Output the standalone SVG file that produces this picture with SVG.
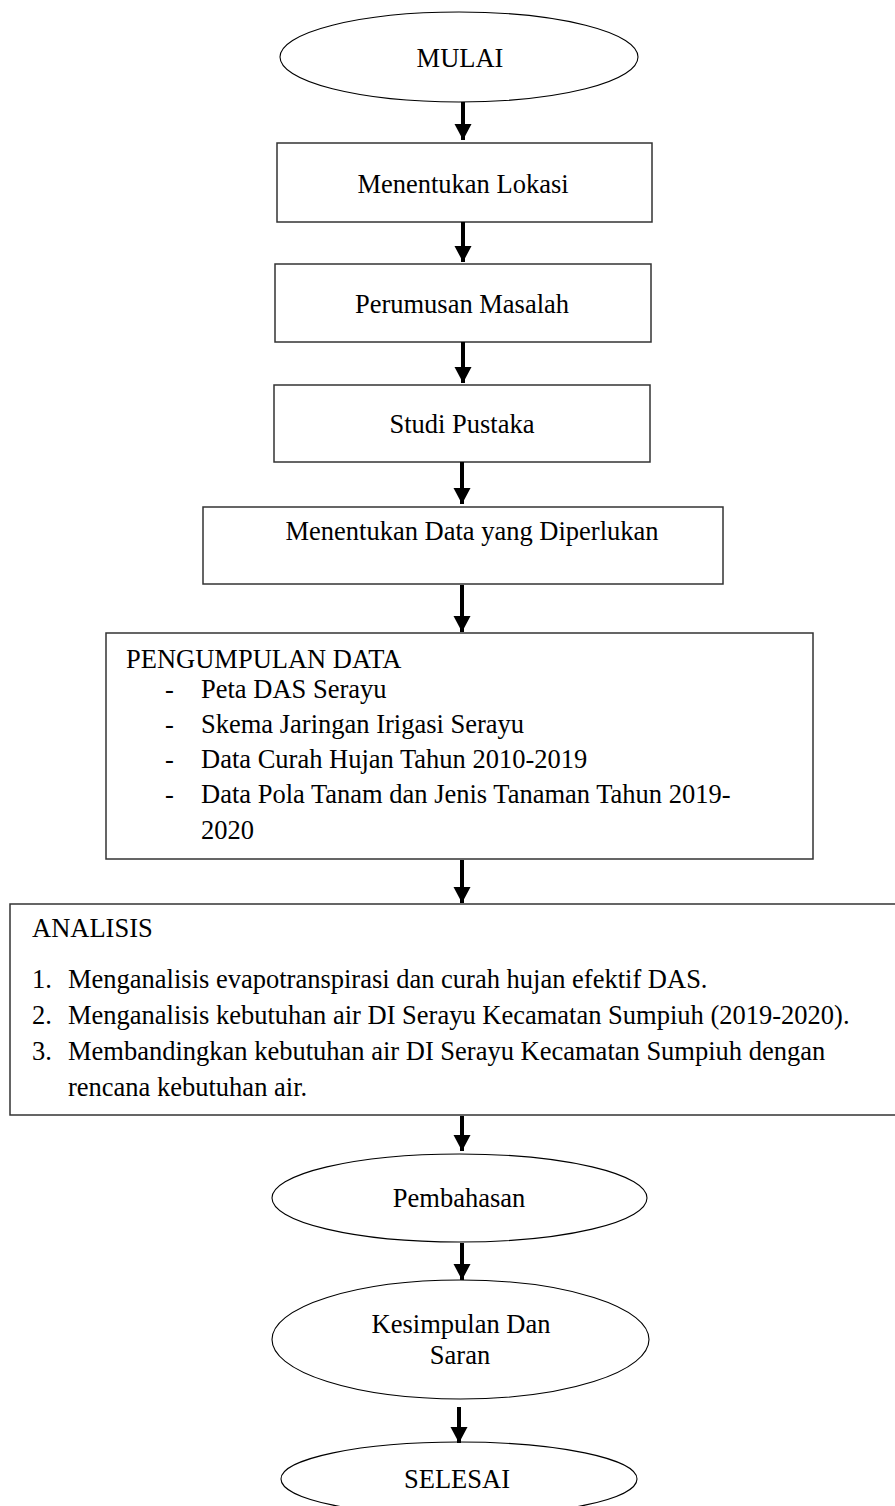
<svg xmlns="http://www.w3.org/2000/svg" width="895" height="1506" viewBox="0 0 895 1506">
<style>
  .box { fill: #fff; stroke: #333; stroke-width: 1.5; }
  .oval { fill: #fff; stroke: #000; stroke-width: 1.1; }
  text { font-family: "Liberation Serif", "Times New Roman", serif; font-size: 26.5px; fill: #000; }
  .c { text-anchor: middle; }
  .conn line { stroke: #000; stroke-width: 4; marker-end: url(#ah); }
</style>
<defs>
  <marker id="ah" markerUnits="userSpaceOnUse" markerWidth="18" markerHeight="18" viewBox="0 0 18 18" refX="16" refY="9" orient="auto">
    <path d="M0,0.5 L16,9 L0,17.5 Z" fill="#000"/>
  </marker>
</defs>
<rect width="895" height="1506" fill="#fff"/>

<g id="mulai">
  <ellipse class="oval" cx="459" cy="57" rx="179" ry="45"/>
  <text class="c" x="460" y="67">MULAI</text>
</g>
<g id="lokasi">
  <rect class="box" x="277" y="143" width="375" height="79"/>
  <text class="c" x="463" y="193">Menentukan Lokasi</text>
</g>
<g id="perumusan">
  <rect class="box" x="275" y="264" width="376" height="78"/>
  <text class="c" x="462" y="313">Perumusan Masalah</text>
</g>
<g id="studi">
  <rect class="box" x="274" y="385" width="376" height="77"/>
  <text class="c" x="462" y="433">Studi Pustaka</text>
</g>
<g id="data">
  <rect class="box" x="203" y="507" width="520" height="77"/>
  <text class="c" x="472" y="540">Menentukan Data yang Diperlukan</text>
</g>
<g id="pengumpulan">
  <rect class="box" x="106" y="633" width="707" height="226"/>
  <text x="126" y="668">PENGUMPULAN DATA</text>
  <text x="165" y="698">-</text><text x="201" y="698">Peta DAS Serayu</text>
  <text x="165" y="733">-</text><text x="201" y="733">Skema Jaringan Irigasi Serayu</text>
  <text x="165" y="768">-</text><text x="201" y="768">Data Curah Hujan Tahun 2010-2019</text>
  <text x="165" y="803">-</text><text x="201" y="803">Data Pola Tanam dan Jenis Tanaman Tahun 2019-</text>
  <text x="201" y="839">2020</text>
</g>
<g id="analisis">
  <rect class="box" x="10" y="904" width="887" height="211"/>
  <text x="32" y="937">ANALISIS</text>
  <text x="32" y="988">1.</text><text x="68" y="988">Menganalisis evapotranspirasi dan curah hujan efektif DAS.</text>
  <text x="32" y="1024">2.</text><text x="68" y="1024">Menganalisis kebutuhan air DI Serayu Kecamatan Sumpiuh (2019-2020).</text>
  <text x="32" y="1060">3.</text><text x="68" y="1060">Membandingkan kebutuhan air DI Serayu Kecamatan Sumpiuh dengan</text>
  <text x="68" y="1096">rencana kebutuhan air.</text>
</g>
<g id="pembahasan">
  <ellipse class="oval" cx="459.5" cy="1198" rx="187.5" ry="44"/>
  <text class="c" x="459" y="1207">Pembahasan</text>
</g>
<g id="kesimpulan">
  <ellipse class="oval" cx="460.5" cy="1339.5" rx="188.5" ry="59.5"/>
  <text class="c" x="461" y="1333">Kesimpulan Dan</text>
  <text class="c" x="460" y="1364">Saran</text>
</g>
<g id="selesai">
  <ellipse class="oval" cx="459" cy="1479" rx="178" ry="37"/>
  <text class="c" x="457" y="1488">SELESAI</text>
</g>

<g id="connectors" class="conn">
  <line x1="463" y1="102" x2="463" y2="140"/>
  <line x1="463" y1="222" x2="463" y2="262"/>
  <line x1="463" y1="342" x2="463" y2="383"/>
  <line x1="462" y1="462" x2="462" y2="504"/>
  <line x1="462" y1="585" x2="462" y2="632"/>
  <line x1="462" y1="860" x2="462" y2="903"/>
  <line x1="462" y1="1116" x2="462" y2="1151"/>
  <line x1="462" y1="1243" x2="462" y2="1280"/>
  <line x1="459" y1="1407" x2="459" y2="1443"/>
</g>
</svg>
